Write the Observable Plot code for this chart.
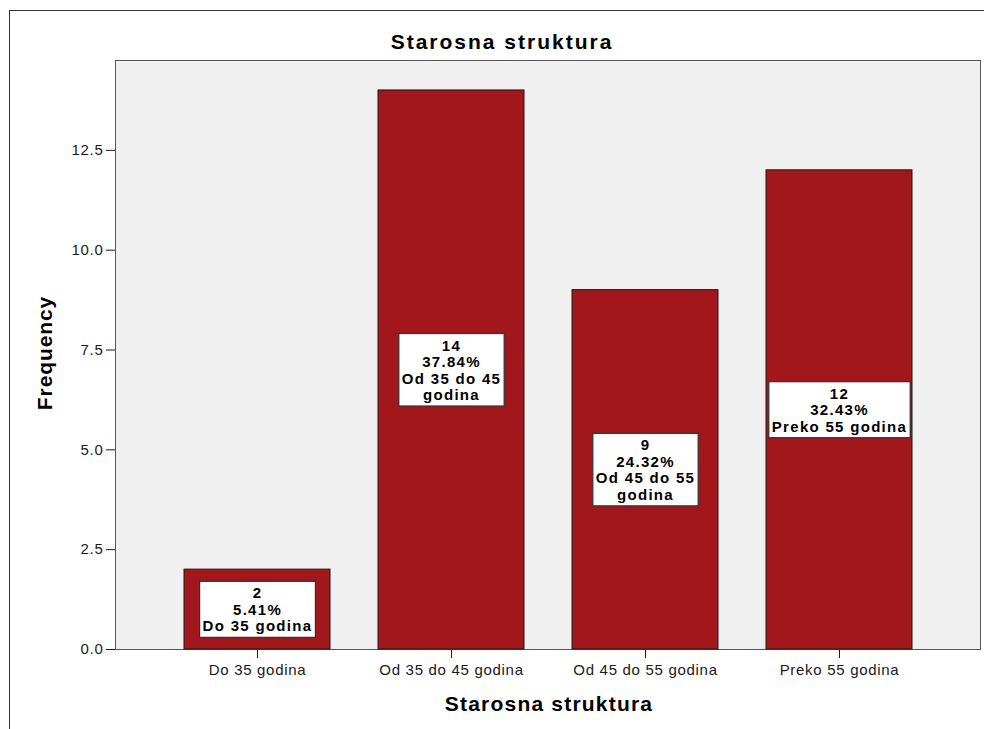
<!DOCTYPE html>
<html><head><meta charset="utf-8">
<script src="https://cdn.jsdelivr.net/npm/d3@7"></script>
<script src="https://cdn.jsdelivr.net/npm/@observablehq/plot@0.6"></script>
<style>
body{margin:0;background:#fff;}
#wrap{position:relative;width:984px;height:729px;overflow:hidden;background:#fff;}
#border{position:absolute;left:9px;top:10px;width:1000px;height:800px;border-top:1px solid #333;border-left:1px solid #333;}
#chart{position:absolute;left:0;top:0;}
</style></head><body>
<div id="wrap"><div id="border"></div><div id="chart"></div></div>
<script>
const categories = ["Do 35 godina", "Od 35 do 45 godina", "Od 45 do 55 godina", "Preko 55 godina"];
const counts = [2, 14, 9, 12];
const percents = ["5.41", "37.84", "24.32", "32.43"];
const labelLines = ["Do 35 godina", "Od 35 do 45\ngodina", "Od 45 do 55\ngodina", "Preko 55 godina"];
const yTicks = [0, 2.5, 5, 7.5, 10, 12.5];
const chartTitle = "Starosna struktura";
const xTitle = "Starosna struktura";
const yTitle = "Frequency";

const data = categories.map((c, i) => ({
  category: c,
  count: counts[i],
  label: `${counts[i]}\n${percents[i]}%\n${labelLines[i]}`
}));
const font = "'Liberation Sans', Arial, sans-serif";

const plot = Plot.plot({
  width: 984, height: 729,
  marginLeft: 115, marginRight: 4, marginTop: 60, marginBottom: 80,
  style: {fontFamily: font, fontSize: "15px", color: "#1a1a1a", background: "transparent", letterSpacing: "0.7px"},
  x: {domain: categories, paddingInner: 0.25, paddingOuter: 0.345, label: null, tickSize: 9, tickPadding: 6},
  y: {domain: [0, 14.75], ticks: yTicks, tickFormat: d3.format(".1f"), label: null, tickSize: 9, tickPadding: 3},
  marks: [
    Plot.frame({fill: "#F0F0F0", stroke: "#555"}),
    Plot.barY(data, {x: "category", y: "count", fill: "#A1171B", stroke: "#1a1a1a", strokeWidth: 1}),
    Plot.text(data, {x: "category", y: d => d.count / 2, text: "label", fontWeight: "bold", fontSize: 15, lineHeight: 1.1, lineAnchor: "middle", fill: "#000", ariaLabel: () => "bar-label"}),
    Plot.text([chartTitle], {frameAnchor: "top", textAnchor: "middle", lineAnchor: "middle", dx: -46, dy: -18, text: d => d, fontWeight: "bold", fontSize: 21, fill: "#000", ariaLabel: () => "chart-title"}),
    Plot.text([xTitle], {frameAnchor: "bottom", textAnchor: "middle", lineAnchor: "middle", dx: 1, dy: 55, text: d => d, fontWeight: "bold", fontSize: 21, fill: "#000", ariaLabel: () => "x-title"}),
    Plot.text([yTitle], {frameAnchor: "left", textAnchor: "middle", lineAnchor: "middle", dx: -70, dy: -2, rotate: -90, text: d => d, fontWeight: "bold", fontSize: 21, fill: "#000", ariaLabel: () => "y-title"})
  ]
});

document.getElementById("chart").append(plot);
const svg = d3.select(plot);
svg.selectAll('text[aria-label="chart-title"]').style("letter-spacing", "2px");
svg.selectAll('text[aria-label="x-title"]').style("letter-spacing", "1.2px");
svg.selectAll('text[aria-label="y-title"]').style("letter-spacing", "0.9px");
svg.selectAll('text[aria-label="bar-label"]').style("letter-spacing", "1.3px").each(function() {
  const t = this;
  const bb = t.getBBox();
  const padX = 3, padY = 3;
  d3.select(t.parentNode).insert("rect", () => t)
    .attr("x", bb.x - padX)
    .attr("y", bb.y - padY)
    .attr("width", bb.width + 2 * padX)
    .attr("height", bb.height + 2 * padY)
    .attr("transform", t.getAttribute("transform"))
    .attr("fill", "#fff")
    .attr("stroke", "#333")
    .attr("stroke-width", 1.2);
});
</script>
</body></html>
